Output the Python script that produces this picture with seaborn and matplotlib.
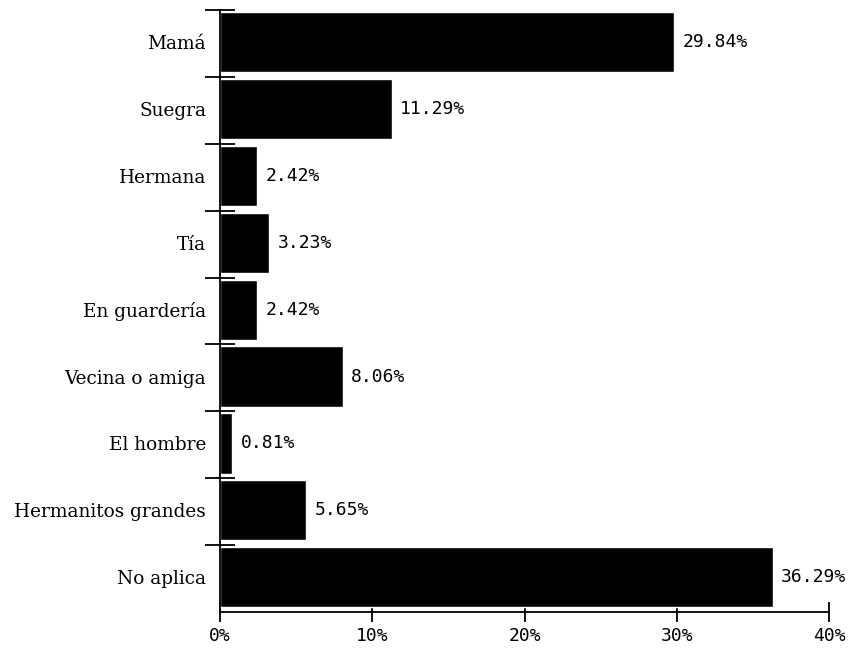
import matplotlib.pyplot as plt
import seaborn as sns
import pandas as pd
from matplotlib.ticker import FixedLocator, FuncFormatter

categorias = ["Mamá", "Suegra", "Hermana", "Tía", "En guardería",
              "Vecina o amiga", "El hombre", "Hermanitos grandes", "No aplica"]
porcentajes = [29.84, 11.29, 2.42, 3.23, 2.42, 8.06, 0.81, 5.65, 36.29]

df = pd.DataFrame({"quien": categorias, "pct": porcentajes})

sns.set_style("white")

fig = plt.figure(figsize=(8.64, 6.54), dpi=100)
ax = fig.add_axes([0.2546, 0.0642, 0.705, 0.9205])

sns.barplot(data=df, x="pct", y="quien", orient="h", color="black",
            width=0.9, saturation=1, ax=ax)

ax.set_xlim(0, 40)
ax.set_ylim(8.52, -0.48)
ax.set_xlabel("")
ax.set_ylabel("")
for s in ["top", "right"]:
    ax.spines[s].set_visible(False)
for s in ["left", "bottom"]:
    ax.spines[s].set_color("black")
    ax.spines[s].set_linewidth(1.3)

# eje x
ax.set_xticks([0, 10, 20, 30, 40])
ax.xaxis.set_major_formatter(FuncFormatter(lambda v, p: f"{v:.0f}%"))
ax.tick_params(axis="x", direction="inout", length=14, width=1.3,
               color="black", bottom=True, pad=4, labelcolor="black")
for lab in ax.get_xticklabels():
    lab.set_fontfamily("DejaVu Sans Mono")
    lab.set_fontsize(13)

# eje y: etiquetas al centro, marcas en los bordes de cada franja
ax.tick_params(axis="y", which="major", length=0, pad=10, labelcolor="black")
ax.yaxis.set_minor_locator(FixedLocator([i - 0.48 for i in range(len(categorias))]))
ax.tick_params(axis="y", which="minor", direction="inout", length=22,
               width=1.3, color="black", left=True)
for lab in ax.get_yticklabels():
    lab.set_fontfamily("DejaVu Serif")
    lab.set_fontsize(13.3)

for i, v in enumerate(porcentajes):
    ax.text(v + 0.55, i, f"{v:.2f}%", va="center", ha="left",
            fontsize=13, family="DejaVu Sans Mono", color="black")

fig.savefig("out.png", dpi=100)
